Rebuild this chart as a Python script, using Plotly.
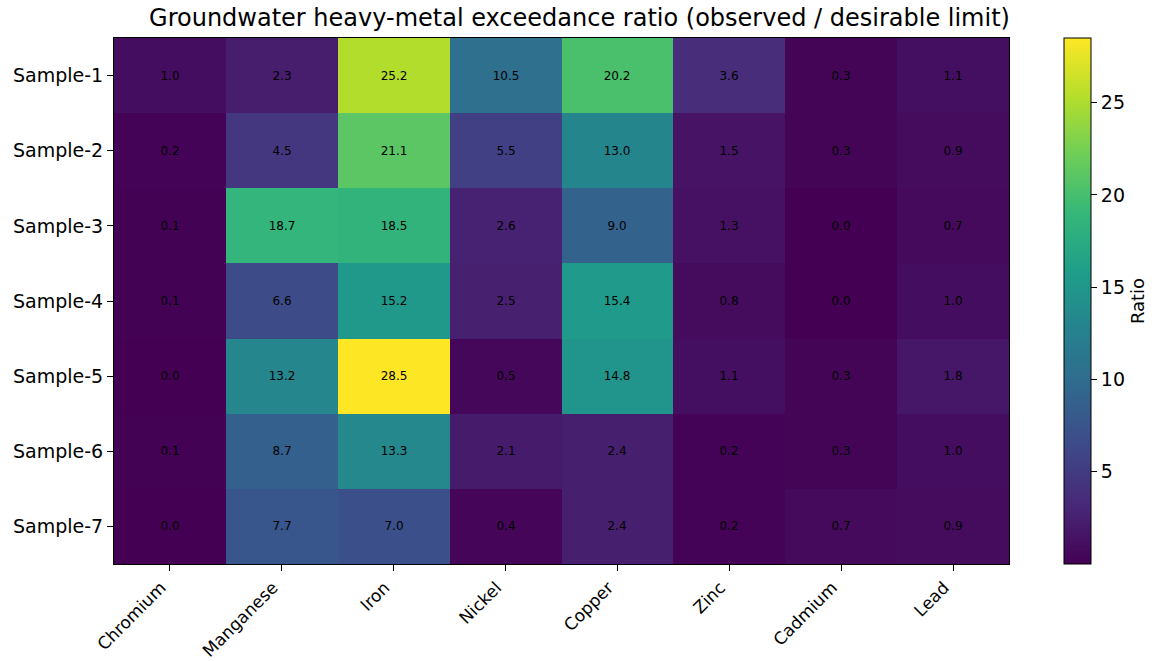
import plotly.graph_objects as go

metals = ["Chromium", "Manganese", "Iron", "Nickel", "Copper", "Zinc", "Cadmium", "Lead"]
samples = ["Sample-1", "Sample-2", "Sample-3", "Sample-4", "Sample-5", "Sample-6", "Sample-7"]

chromium  = [1.0, 0.2, 0.1, 0.1, 0.0, 0.1, 0.0]
manganese = [2.3, 4.5, 18.7, 6.6, 13.2, 8.7, 7.7]
iron      = [25.2, 21.1, 18.5, 15.2, 28.5, 13.3, 7.0]
nickel    = [10.5, 5.5, 2.6, 2.5, 0.5, 2.1, 0.4]
copper    = [20.2, 13.0, 9.0, 15.4, 14.8, 2.4, 2.4]
zinc      = [3.6, 1.5, 1.3, 0.8, 1.1, 0.2, 0.2]
cadmium   = [0.3, 0.3, 0.0, 0.0, 0.3, 0.3, 0.7]
lead      = [1.1, 0.9, 0.7, 1.0, 1.8, 1.0, 0.9]

cols = [chromium, manganese, iron, nickel, copper, zinc, cadmium, lead]
z = [[c[i] for c in cols] for i in range(len(samples))]

FONT = "DejaVu Sans"
W, H = 1159, 661
L, R, T, B = 114, 150, 38, 97
PW = W - L - R

fig = go.Figure(go.Heatmap(
    z=z, x=metals, y=samples,
    colorscale="Viridis",
    zmin=0.0, zmax=28.5,
    texttemplate="%{z:.1f}",
    textfont=dict(size=12, color="black", family=FONT),
    colorbar=dict(
        title=dict(text="Ratio", side="right", font=dict(size=18, family=FONT, color="black")),
        thickness=27, len=1.0, lenmode="fraction", y=0.5, yanchor="middle",
        x=(1064 - L) / PW, xanchor="left", xpad=0, ypad=0,
        tickvals=[5, 10, 15, 20, 25], ticks="outside", ticklen=6, tickcolor="black",
        tickfont=dict(size=19, family=FONT, color="black"),
        outlinecolor="black", outlinewidth=1,
    ),
))

fig.update_layout(
    width=W, height=H,
    margin=dict(l=L, r=R, t=T, b=B, autoexpand=False),
    paper_bgcolor="white", plot_bgcolor="white",
    title=dict(text="Groundwater heavy-metal exceedance ratio (observed / desirable limit)",
               x=0.5, xanchor="center", yref="container", y=1 - 18 / H, yanchor="middle",
               font=dict(size=24, family=FONT, color="black")),
    font=dict(family=FONT, color="black"),
)
fig.update_xaxes(tickangle=-45, ticks="outside", ticklen=6, tickcolor="black", automargin=False,
                 tickfont=dict(size=17, family=FONT, color="black"), ticklabelshift=-9,
                 showline=True, linecolor="black", linewidth=1, mirror=True, showgrid=False)
fig.update_yaxes(autorange="reversed", ticks="outside", ticklen=6, tickcolor="black", automargin=False,
                 tickfont=dict(size=19, family=FONT, color="black"),
                 showline=True, linecolor="black", linewidth=1, mirror=True, showgrid=False)

fig.write_html("out.html", config={"displayModeBar": False},
               post_script="document.body.style.margin='0';document.body.style.overflow='hidden';")
